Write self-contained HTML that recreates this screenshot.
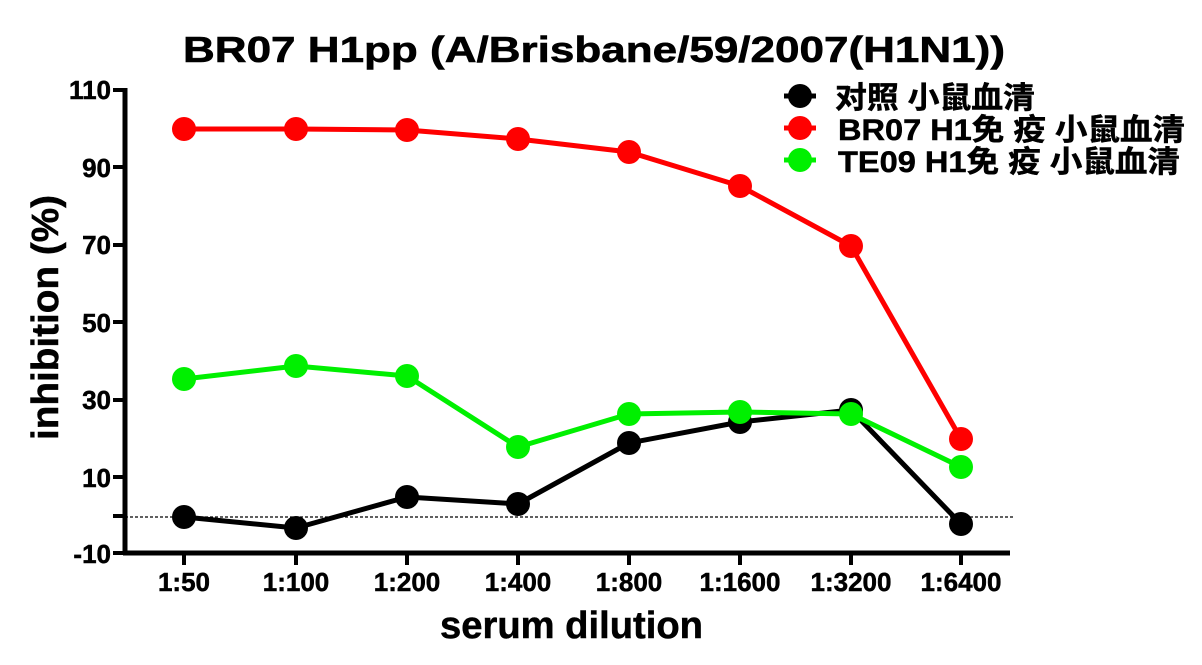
<!DOCTYPE html>
<html><head><meta charset="utf-8"><style>
html,body{margin:0;padding:0;background:#fff;}
svg{display:block;}
text{font-family:"Liberation Sans","Noto Sans CJK SC",sans-serif;font-weight:bold;fill:#000;}
</style></head><body>
<svg width="1202" height="665" viewBox="0 0 1202 665" xmlns="http://www.w3.org/2000/svg">
<text x="183" y="62" font-size="36" textLength="822" lengthAdjust="spacingAndGlyphs" stroke="#000" stroke-width="0.6">BR07 H1pp (A/Brisbane/59/2007(H1N1))</text>
<line x1="125" y1="88" x2="125" y2="555" stroke="#000" stroke-width="5"/>
<line x1="123" y1="553" x2="1010" y2="553" stroke="#000" stroke-width="5"/>
<g stroke="#000" stroke-width="4">
<line x1="113" y1="90" x2="125" y2="90"/>
<line x1="113" y1="167" x2="125" y2="167"/>
<line x1="113" y1="245" x2="125" y2="245"/>
<line x1="113" y1="322" x2="125" y2="322"/>
<line x1="113" y1="400" x2="125" y2="400"/>
<line x1="113" y1="477" x2="125" y2="477"/>
<line x1="113" y1="516" x2="125" y2="516"/>
<line x1="113" y1="553" x2="125" y2="553"/>
<line x1="184" y1="553" x2="184" y2="565"/>
<line x1="296" y1="553" x2="296" y2="565"/>
<line x1="407" y1="553" x2="407" y2="565"/>
<line x1="518" y1="553" x2="518" y2="565"/>
<line x1="629" y1="553" x2="629" y2="565"/>
<line x1="740" y1="553" x2="740" y2="565"/>
<line x1="851" y1="553" x2="851" y2="565"/>
<line x1="961" y1="553" x2="961" y2="565"/>
</g>
<g font-size="26" text-anchor="end" stroke="#000" stroke-width="0.5">
<text x="111" y="99">110</text>
<text x="111" y="177">90</text>
<text x="111" y="254">70</text>
<text x="111" y="332">50</text>
<text x="111" y="409">30</text>
<text x="111" y="487">10</text>
<text x="111" y="563">-10</text>
</g>
<g font-size="26" text-anchor="middle" stroke="#000" stroke-width="0.5">
<text x="184" y="591">1:50</text>
<text x="296" y="591">1:100</text>
<text x="407" y="591">1:200</text>
<text x="518" y="591">1:400</text>
<text x="629" y="591">1:800</text>
<text x="740" y="591">1:1600</text>
<text x="851" y="591">1:3200</text>
<text x="961" y="591">1:6400</text>
</g>
<text x="440" y="638" font-size="38" textLength="263" lengthAdjust="spacingAndGlyphs" stroke="#000" stroke-width="0.5">serum dilution</text>
<text transform="translate(58,440) rotate(-90)" font-size="38" textLength="245" lengthAdjust="spacingAndGlyphs" stroke="#000" stroke-width="0.5">inhibition (%)</text>
<line x1="125" y1="517" x2="1015" y2="517" stroke="#000" stroke-width="1.2" stroke-dasharray="3,2"/>
<g stroke-width="5" fill="none" stroke-linejoin="round">
<polyline stroke="#000" points="184,517 296,528 407,497 518,504 629,443 740,422 851,410 961,524"/>
<polyline stroke="#00f000" points="184,379 296,366 407,376 518,447 629,414 740,412 851,414 961,467"/>
<polyline stroke="#ff0000" points="184,129 296,129 407,130 518,139 629,152 740,186 851,246 961,439"/>
</g>
<g fill="#000">
<circle cx="184" cy="517" r="12"/><circle cx="296" cy="528" r="12"/><circle cx="407" cy="497" r="12"/><circle cx="518" cy="504" r="12"/><circle cx="629" cy="443" r="12"/><circle cx="740" cy="422" r="12"/><circle cx="851" cy="410" r="12"/><circle cx="961" cy="524" r="12"/>
</g>
<g fill="#00f000">
<circle cx="184" cy="379" r="12"/><circle cx="296" cy="366" r="12"/><circle cx="407" cy="376" r="12"/><circle cx="518" cy="447" r="12"/><circle cx="629" cy="414" r="12"/><circle cx="740" cy="412" r="12"/><circle cx="851" cy="414" r="12"/><circle cx="961" cy="467" r="12"/>
</g>
<g fill="#ff0000">
<circle cx="184" cy="129" r="12"/><circle cx="296" cy="129" r="12"/><circle cx="407" cy="130" r="12"/><circle cx="518" cy="139" r="12"/><circle cx="629" cy="152" r="12"/><circle cx="740" cy="186" r="12"/><circle cx="851" cy="246" r="12"/><circle cx="961" cy="439" r="12"/>
</g>
<g stroke-width="5">
<line x1="784" y1="96" x2="816" y2="96" stroke="#000"/>
<line x1="784" y1="128" x2="816" y2="128" stroke="#ff0000"/>
<line x1="784" y1="160" x2="816" y2="160" stroke="#00f000"/>
</g>
<circle cx="800" cy="96" r="12" fill="#000"/>
<circle cx="800" cy="128" r="12" fill="#ff0000"/>
<circle cx="800" cy="160" r="12" fill="#00f000"/>
<g font-size="30" stroke="#000" stroke-width="0.5">
<text x="835" y="108" textLength="200" lengthAdjust="spacingAndGlyphs">对照 小鼠血清</text>
<text x="838" y="140" textLength="347" lengthAdjust="spacingAndGlyphs">BR07 H1免 疫 小鼠血清</text>
<text x="838" y="172" textLength="342" lengthAdjust="spacingAndGlyphs">TE09 H1免 疫 小鼠血清</text>
</g>
</svg>
</body></html>
